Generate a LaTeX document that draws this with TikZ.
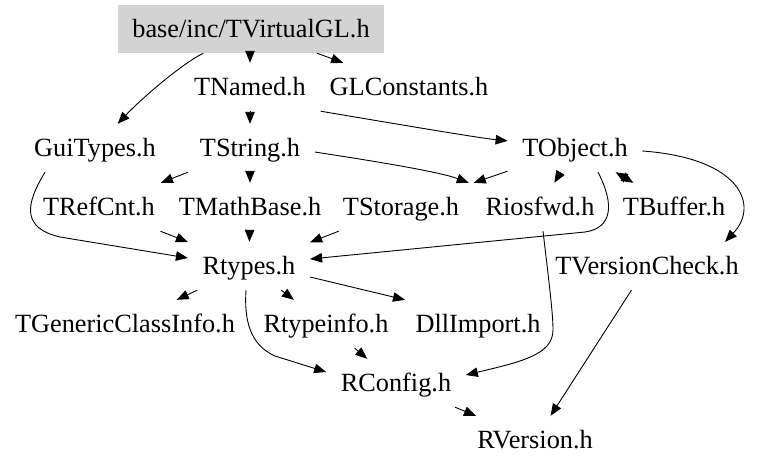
\documentclass[tikz,border=0pt]{standalone}
\usepackage{fontspec}
\setmainfont{Liberation Serif}
\usetikzlibrary{arrows.meta}
\definecolor{boxgray}{RGB}{211,211,211}
\begin{document}
\begin{tikzpicture}[x=1pt,y=-1pt,
  file/.style={inner xsep=14.5pt, inner ysep=0pt, minimum height=48pt,
    text height=17.4pt, text depth=0pt, font=\fontsize{26.3pt}{30pt}\selectfont},
  root/.style={file, fill=boxgray},
  edge/.style={line width=0.9pt, -{Triangle[length=12pt,width=9.5pt]}},
  dedge/.style={line width=0.9pt, {Triangle[length=12pt,width=9.5pt]}-{Triangle[length=12pt,width=9.5pt]}}]
\useasboundingbox (0,0) rectangle (757,469);

\node[root] (top) at (251,29) {base/inc/TVirtualGL.h};
\node[file] (tnamed) at (250,87) {TNamed.h};
\node[file] (glconst) at (409,87) {GLConstants.h};
\node[file] (gui) at (95,148) {GuiTypes.h};
\node[file] (tstring) at (250,148) {TString.h};
\node[file] (tobject) at (575,148) {TObject.h};
\node[file] (trefcnt) at (99,207) {TRefCnt.h};
\node[file] (tmath) at (250,207) {TMathBase.h};
\node[file] (tstorage) at (401,207) {TStorage.h};
\node[file] (riosfwd) at (540,207) {Riosfwd.h};
\node[file] (tbuffer) at (674,207) {TBuffer.h};
\node[file] (rtypes) at (249,266) {Rtypes.h};
\node[file] (tvc) at (647,266) {TVersionCheck.h};
\node[file] (tgci) at (125,324) {TGenericClassInfo.h};
\node[file] (rtypeinfo) at (326,324) {Rtypeinfo.h};
\node[file] (dll) at (478,324) {DllImport.h};
\node[file] (rconfig) at (396,383) {RConfig.h};
\node[file] (rversion) at (535,440) {RVersion.h};

% from TVirtualGL.h
\draw[edge] (top) .. controls (180,65) and (140,100) .. (gui);
\draw[edge] (top.south -| tnamed) -- (tnamed);
\draw[edge] (top) -- (glconst);
% from TNamed.h
\draw[edge] (tnamed) -- (tstring);
\draw[edge] (tnamed.south east) .. controls (420,128) and (480,138) .. (tobject);
% from TString.h
\draw[edge] (tstring) -- (trefcnt);
\draw[edge] (tstring) -- (tmath);
\draw[edge] ([yshift=-4pt]tstring.east) .. controls (380,162) and (440,172) .. ([xshift=-5pt]tstorage.north east);
% from TObject.h
\draw[edge] (tobject) -- (tstorage.north east);
\draw[edge] (tobject) -- (riosfwd);
\draw[dedge] (tobject) -- (tbuffer);
\draw[edge] ([xshift=23pt]tobject.south) .. controls (615,205) and (612,228) .. (585,232)
  -- ([yshift=7pt]rtypes.east);
\draw[edge] ([yshift=-3pt]tobject.east) .. controls (740,158) and (760,205) .. ([xshift=78pt]tvc.north);
% into Rtypes.h
\draw[edge] ([xshift=-50pt]gui.south) .. controls (25,205) and (22,228) .. (60,237)
  -- ([yshift=8pt]rtypes.west);
\draw[edge] (trefcnt) -- (rtypes);
\draw[edge] (tmath) -- (rtypes);
\draw[edge] (tstorage) -- (rtypes);
% from Rtypes.h
\draw[edge] (rtypes) -- (tgci);
\draw[edge] (rtypes) -- (rtypeinfo);
\draw[edge] ([yshift=-11pt]rtypes.east) -- ([xshift=-73pt]dll.north);
\draw[edge] ([xshift=-3pt]rtypes.south) .. controls (244,320) and (250,345) .. (275,356)
  -- ([yshift=11pt]rconfig.west);
% into RConfig.h
\draw[edge] (rtypeinfo) -- (rconfig);
\draw[edge] ([xshift=3pt]riosfwd.south) .. controls (550,290) and (553,315) .. (553,330)
  .. controls (553,355) and (520,362) .. ([yshift=8pt]rconfig.east);
% into RVersion.h
\draw[edge] (rconfig) -- (rversion);
\draw[edge] (tvc) -- (rversion);
\end{tikzpicture}
\end{document}
